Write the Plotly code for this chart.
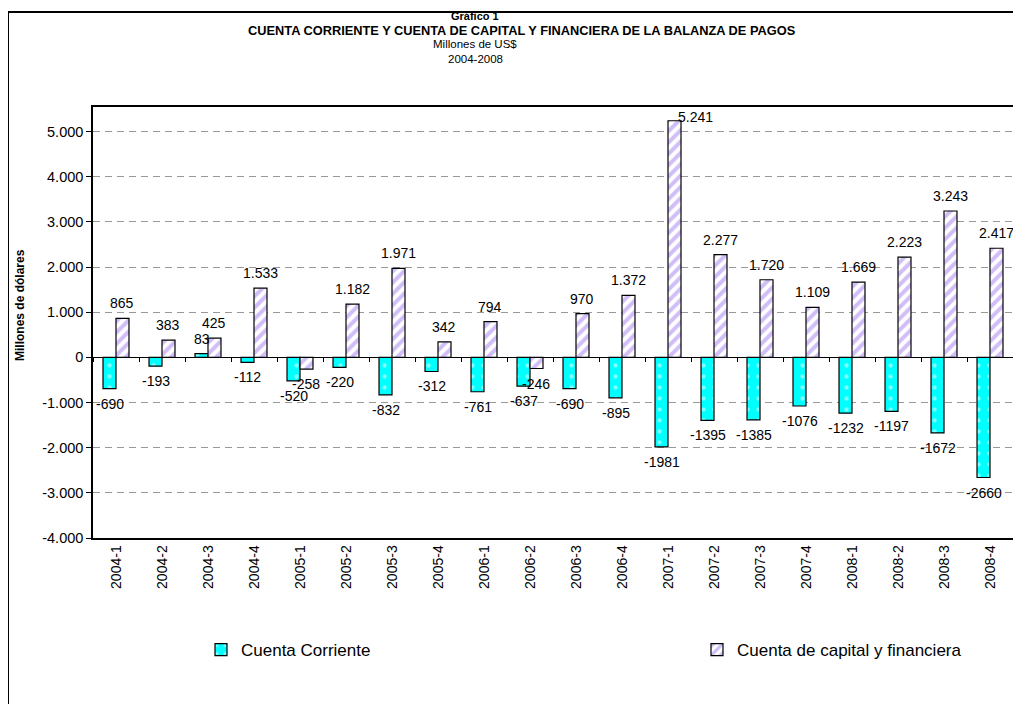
import plotly.graph_objects as go

quarters = ["2004-1", "2004-2", "2004-3", "2004-4",
            "2005-1", "2005-2", "2005-3", "2005-4",
            "2006-1", "2006-2", "2006-3", "2006-4",
            "2007-1", "2007-2", "2007-3", "2007-4",
            "2008-1", "2008-2", "2008-3", "2008-4"]
cuenta_corriente = [-690, -193, 83, -112, -520, -220, -832, -312, -761, -637,
                    -690, -895, -1981, -1395, -1385, -1076, -1232, -1197, -1672, -2660]
cuenta_capital = [865, 383, 425, 1533, -258, 1182, 1971, 342, 794, -246,
                  970, 1372, 5241, 2277, 1720, 1109, 1669, 2223, 3243, 2417]
y_ticks = [-4000, -3000, -2000, -1000, 0, 1000, 2000, 3000, 4000, 5000]

OFF = 8  # page body margin
W, H = 1021 - OFF, 704 - OFF
L, R, T, B = 85, 8, 99, 166
PW, PH = W - L - R, H - T - B
YMIN, YMAX = -4000, 5546
BARGAP = 0.435
HALF_BAR = PW / len(quarters) * (1 - BARGAP) / 4  # px offset of each bar centre


def px_x(x):  # x in reference-screenshot pixels
    return (x - OFF - L) / PW


def px_y(y):  # y in reference-screenshot pixels
    return (H - B - (y - OFF)) / PH


def fmt_thousands(v):
    return f"{v:,}".replace(",", ".")


FONT = "Liberation Sans, Arial, sans-serif"
LABEL_FONT = dict(family=FONT, size=14, color="black")

fig = go.Figure()
fig.add_trace(go.Bar(
    x=quarters, y=cuenta_corriente, name="Cuenta Corriente", legend="legend",
    marker=dict(color="#00FFFF",
                pattern=dict(shape=".", fgcolor="white", bgcolor="#00FFFF", size=11, solidity=0.12),
                line=dict(color="black", width=1.2)),
    hoverinfo="skip",
))
fig.add_trace(go.Bar(
    x=quarters, y=cuenta_capital, name="Cuenta de capital y financiera", legend="legend2",
    marker=dict(color="white",
                pattern=dict(shape="/", fgcolor="#A47CF0", bgcolor="white", size=8, solidity=0.5),
                line=dict(color="black", width=1.2)),
    hoverinfo="skip",
))
# helper trace carrying the category tick marks drawn on the zero line
fig.add_trace(go.Scatter(x=quarters, y=[0] * len(quarters), xaxis="x2", mode="none",
                         showlegend=False, hoverinfo="skip"))

# data labels (placed a little away from the bar ends, as in the reference)
labels = []
peak = cuenta_capital.index(max(cuenta_capital))
for q, v in zip(quarters, cuenta_corriente):
    labels.append(dict(text=str(v), x=q, y=v, xref="x", yref="y", showarrow=False,
                       xanchor="center", yanchor="bottom" if v >= 0 else "top",
                       xshift=-HALF_BAR, yshift=5 if v >= 0 else -5, font=LABEL_FONT))
for i, (q, v) in enumerate(zip(quarters, cuenta_capital)):
    if i == peak:
        labels.append(dict(text=fmt_thousands(v), x=q, y=v, xref="x", yref="y", showarrow=False,
                           xanchor="left", yanchor="middle", xshift=HALF_BAR + 1.5, yshift=4,
                           font=LABEL_FONT))
        continue
    labels.append(dict(text=fmt_thousands(v), x=q, y=v, xref="x", yref="y", showarrow=False,
                       xanchor="center", yanchor="bottom" if v >= 0 else "top",
                       xshift=HALF_BAR, yshift=5 if v >= 0 else -5, font=LABEL_FONT))

zero_pos = (0 - YMIN) / (YMAX - YMIN)

legend_common = dict(orientation="h", xanchor="left", yanchor="middle",
                     font=dict(family=FONT, size=17, color="black"),
                     itemwidth=30, bgcolor="rgba(0,0,0,0)")

fig.update_layout(
    width=W, height=H,
    margin=dict(l=L, r=R, t=T, b=B, autoexpand=False),
    paper_bgcolor="white", plot_bgcolor="white",
    barmode="group", bargap=BARGAP, bargroupgap=0,
    font=dict(family=FONT, size=13, color="black"),
    showlegend=True,
    legend=dict(x=px_x(201), y=px_y(650), **legend_common),
    legend2=dict(x=px_x(697), y=px_y(650), **legend_common),
    xaxis=dict(type="category", categoryorder="array", categoryarray=quarters,
               range=[-0.5, len(quarters) - 0.5],
               showline=True, linecolor="black", linewidth=1.5, mirror=True,
               ticks="", tickangle=-90, tickfont=dict(family=FONT, size=14),
               showgrid=False, zeroline=False),
    xaxis2=dict(type="category", categoryorder="array", categoryarray=quarters,
                range=[-0.5, len(quarters) - 0.5], overlaying="x", anchor="free",
                position=zero_pos, showline=False, ticks="outside", tickson="boundaries",
                ticklen=4, tickcolor="black", showticklabels=False, showgrid=False,
                zeroline=False),
    yaxis=dict(range=[YMIN, YMAX], tickvals=y_ticks,
               ticktext=[fmt_thousands(v) for v in y_ticks],
               showline=True, linecolor="black", linewidth=1.5, mirror=True,
               ticks="outside", ticklen=5, tickcolor="black",
               tickfont=dict(family=FONT, size=14.5),
               showgrid=True, gridcolor="#999999", gridwidth=1, griddash="7px,5px",
               zeroline=True, zerolinecolor="black", zerolinewidth=1.2),
    annotations=[
        dict(text="<b>Gráfico 1</b>", x=px_x(475), y=px_y(16), xref="paper", yref="paper",
             showarrow=False, xanchor="center", yanchor="middle", font=dict(family=FONT, size=11)),
        dict(text="<b>CUENTA CORRIENTE Y CUENTA DE CAPITAL Y FINANCIERA DE LA BALANZA DE PAGOS</b>",
             x=px_x(522), y=px_y(30), xref="paper", yref="paper", showarrow=False,
             xanchor="center", yanchor="middle", font=dict(family=FONT, size=12.8)),
        dict(text="Millones de US$", x=px_x(475), y=px_y(44), xref="paper", yref="paper",
             showarrow=False, xanchor="center", yanchor="middle", font=dict(family=FONT, size=11.5)),
        dict(text="2004-2008", x=px_x(475), y=px_y(59), xref="paper", yref="paper",
             showarrow=False, xanchor="center", yanchor="middle", font=dict(family=FONT, size=11.5)),
        dict(text="<b>Millones de dólares</b>", x=px_x(20), y=px_y(305), xref="paper", yref="paper",
             showarrow=False, textangle=-90, xanchor="center", yanchor="middle",
             font=dict(family=FONT, size=12)),
    ] + labels,
    shapes=[
        dict(type="rect", xref="paper", yref="paper",
             x0=px_x(8), x1=px_x(1040), y0=px_y(730), y1=px_y(12),
             line=dict(color="black", width=2), fillcolor="rgba(0,0,0,0)", layer="above"),
    ],
)

fig.write_html("out.html")
